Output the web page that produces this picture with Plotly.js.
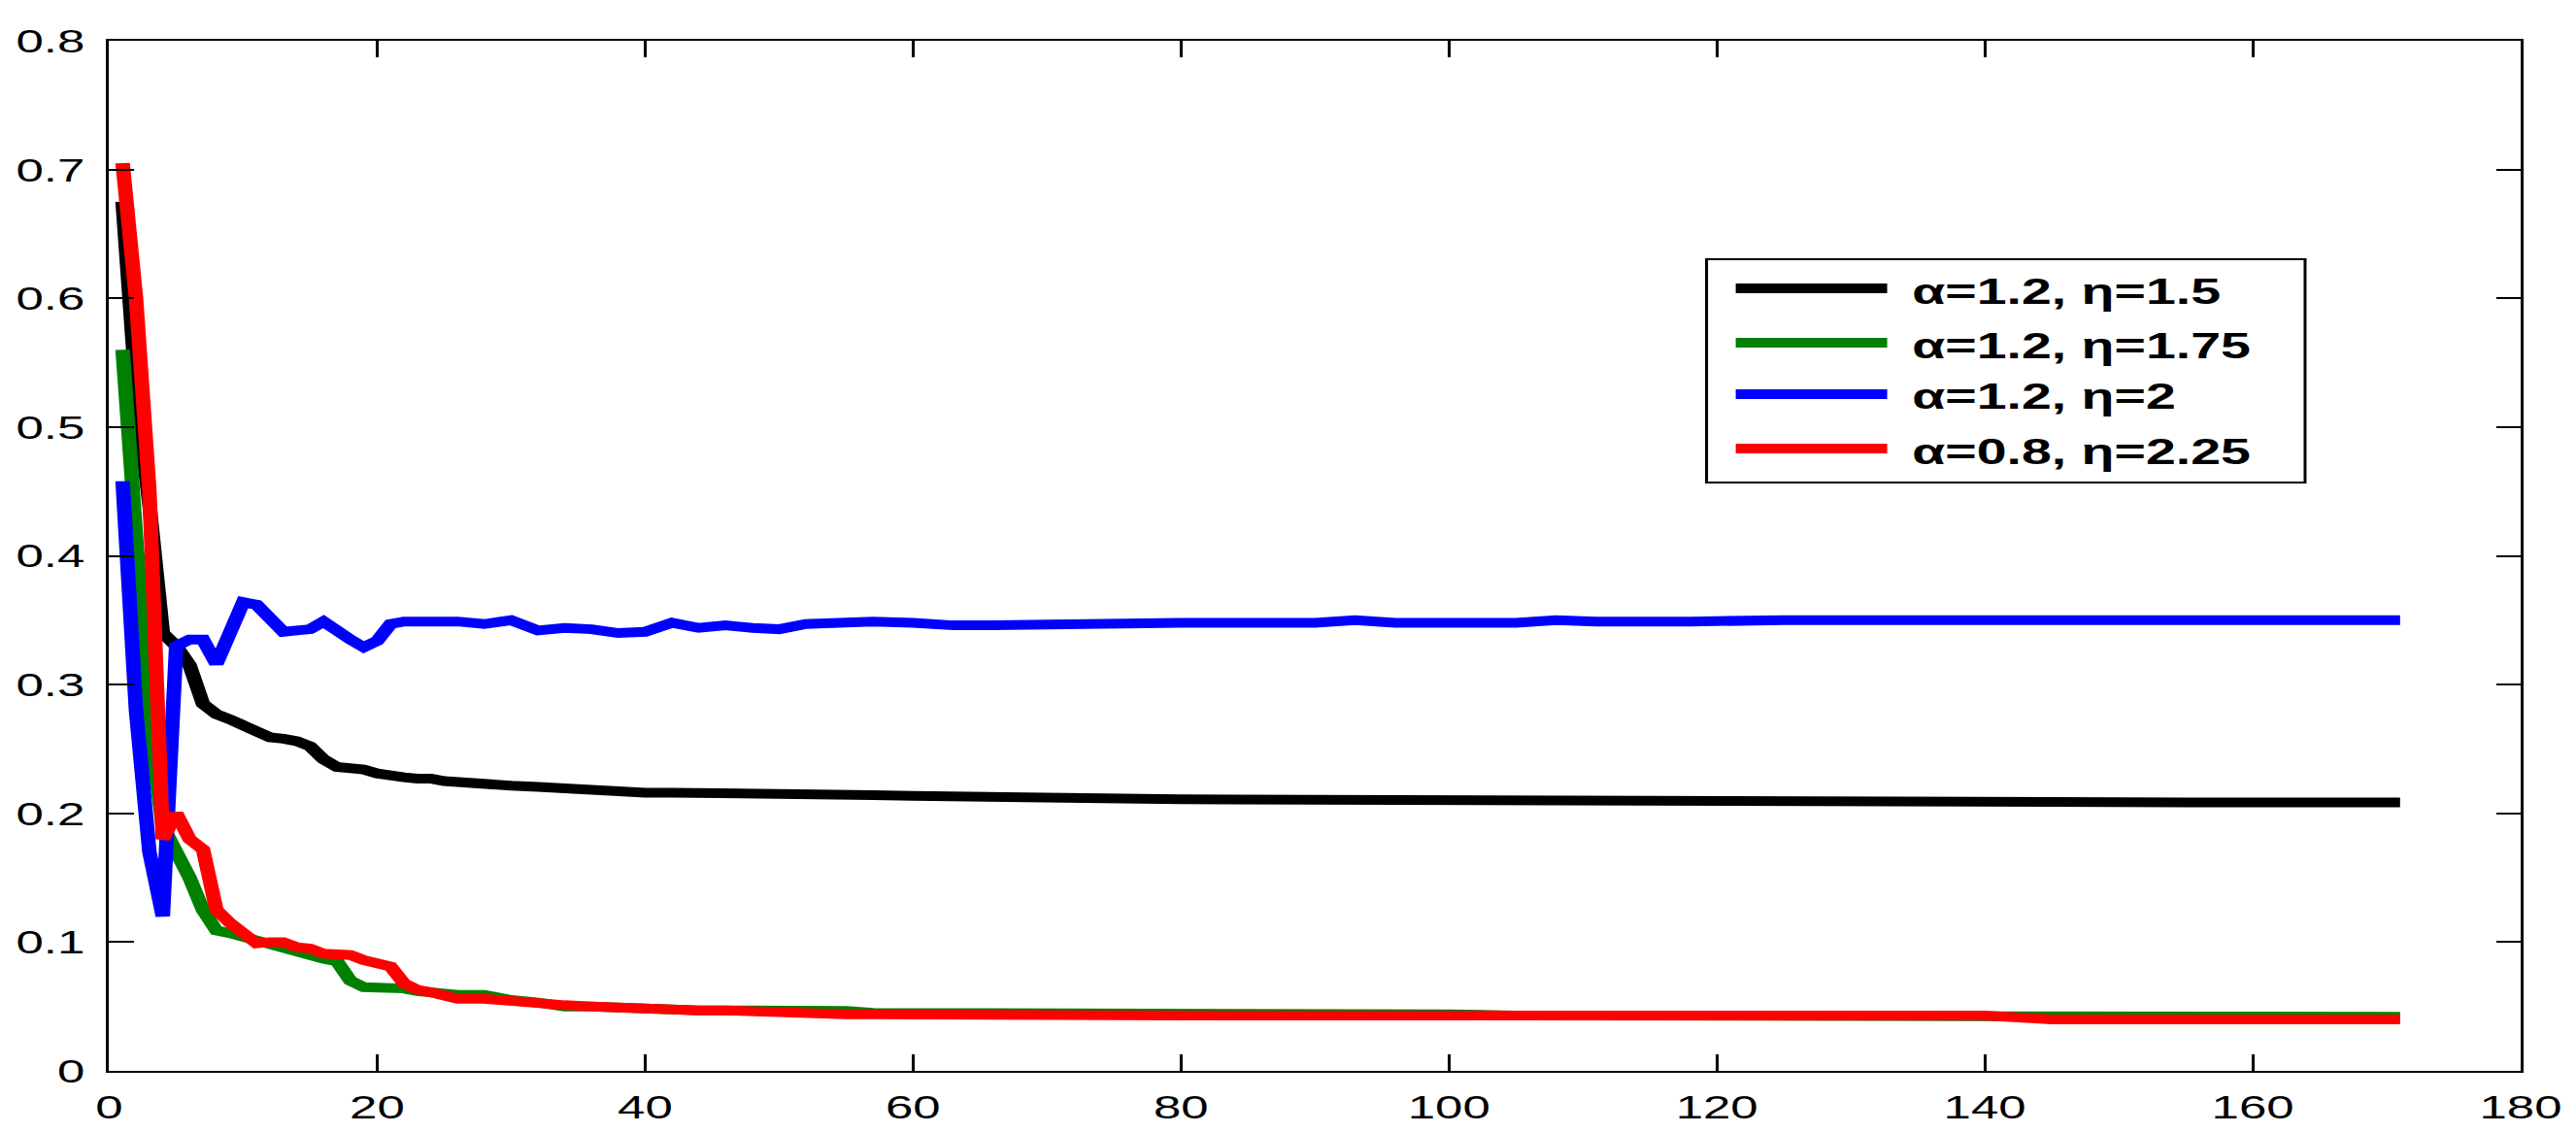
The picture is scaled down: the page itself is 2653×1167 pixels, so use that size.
<!DOCTYPE html>
<html>
<head>
<meta charset="utf-8">
<script src="https://cdn.plot.ly/plotly-3.0.1.min.js"></script>
<style>
  html, body { margin: 0; padding: 0; background: #ffffff; overflow: hidden; }
  #wrap { width: 2653px; height: 1167px; overflow: hidden; }
  #chart { width: 1769px; height: 1167px; transform: scaleX(1.49972); transform-origin: 0 0; }
</style>
</head>
<body>
<div id="wrap"><div id="chart"></div></div>
<script>
// ---- data ----
const iterations = [1,2,3,4,5,6,7,8,9,10,11,12,13,14,15,16,17,18,19,20,21,22,23,24,25,26,28,30,32,34,36,38,40,42,44,46,48,50,52,55,57,60,63,66,70,75,80,90,93,96,100,105,108,111,118,125,140,145,155,171];

const seriesNames = ["α=1.2, η=1.5", "α=1.2, η=1.75", "α=1.2, η=2", "α=0.8, η=2.25"];
const seriesColors = ["#000000", "#008000", "#0000ff", "#ff0000"];

const blackA12E150 = [0.675,0.53,0.44,0.34,0.33,0.315,0.285,0.277,0.273,0.268,0.262,0.259,0.258,0.256,0.252,0.242,0.236,0.235,0.234,0.231,0.229,0.228,0.227,0.227,0.225,0.224,0.223,0.2215,0.2205,0.219,0.2175,0.2165,0.216,0.216,0.216,0.2158,0.2155,0.2152,0.215,0.2146,0.2142,0.2135,0.213,0.2128,0.2125,0.211,0.211,0.2105,0.2105,0.2103,0.21,0.2095,0.209,0.209,0.209,0.209,0.2088,0.2088,0.2085,0.2085];

const greenA12E175 = [0.56,0.40,0.27,0.19,0.172,0.15,0.125,0.109,0.107,0.104,0.100,0.097,0.094,0.092,0.090,0.087,0.085,0.070,0.065,0.065,0.064,0.064,0.062,0.061,0.059,0.059,0.059,0.055,0.053,0.050,0.050,0.049,0.049,0.048,0.047,0.047,0.047,0.046,0.046,0.0465,0.045,0.045,0.045,0.045,0.044,0.044,0.044,0.044,0.044,0.044,0.044,0.043,0.043,0.043,0.043,0.043,0.042,0.042,0.042,0.042];

const blueA12E200 = [0.458,0.28,0.17,0.12,0.33,0.335,0.335,0.316,0.34,0.364,0.362,0.35,0.341,0.342,0.343,0.349,0.341,0.335,0.329,0.334,0.347,0.349,0.349,0.349,0.349,0.349,0.347,0.350,0.342,0.344,0.343,0.340,0.341,0.348,0.344,0.346,0.344,0.343,0.347,0.348,0.349,0.348,0.346,0.346,0.347,0.348,0.348,0.348,0.350,0.348,0.348,0.348,0.350,0.349,0.349,0.350,0.350,0.350,0.350,0.350];

const redA08E225 = [0.705,0.60,0.45,0.18,0.20,0.18,0.172,0.125,0.115,0.106,0.099,0.100,0.100,0.096,0.095,0.091,0.090,0.090,0.086,0.083,0.081,0.068,0.063,0.061,0.058,0.056,0.056,0.054,0.052,0.051,0.050,0.049,0.049,0.048,0.047,0.047,0.046,0.046,0.045,0.044,0.044,0.0437,0.0435,0.0435,0.043,0.043,0.043,0.043,0.043,0.043,0.043,0.043,0.043,0.043,0.043,0.043,0.043,0.040,0.040,0.040];

const seriesValues = [blackA12E150, greenA12E175, blueA12E200, redA08E225];

const xTickVals = [0,20,40,60,80,100,120,140,160,180];
const yTickVals = [0,0.1,0.2,0.3,0.4,0.5,0.6,0.7,0.8];
const yTickText = ["0","0.1","0.2","0.3","0.4","0.5","0.6","0.7","0.8"];

// ---- traces ----
const traces = seriesValues.map((vals, i) => ({
  type: "scatter",
  mode: "lines",
  x: iterations,
  y: vals,
  name: seriesNames[i],
  showlegend: false,
  line: { color: seriesColors[i], width: 10 },
  hoverinfo: "skip"
}));

// ---- hand-built legend (box, line samples, labels) ----
const legBox = { x0: 0.6624, x1: 0.9106, y0: 0.5712, y1: 0.7879 };
const legLineX = [0.6745, 0.7373];
const legRowY = [0.7597, 0.7069, 0.6569, 0.6041];
const legTextY = [0.7568, 0.7040, 0.6541, 0.6013];
const legTextX = 0.7464;

const shapes = [{
  type: "rect", xref: "paper", yref: "paper",
  x0: legBox.x0, x1: legBox.x1, y0: legBox.y0, y1: legBox.y1,
  line: { color: "#000000", width: 2 }, fillcolor: "#ffffff", layer: "above"
}];
seriesNames.forEach((n, i) => {
  shapes.push({
    type: "line", xref: "paper", yref: "paper",
    x0: legLineX[0], x1: legLineX[1], y0: legRowY[i], y1: legRowY[i],
    line: { color: seriesColors[i], width: 10 }, layer: "above"
  });
});
const annotations = seriesNames.map((n, i) => ({
  xref: "paper", yref: "paper", x: legTextX, y: legTextY[i],
  xanchor: "left", yanchor: "middle", showarrow: false,
  text: "<b>" + n + "</b>",
  font: { family: "Liberation Sans, Arial, sans-serif", size: 37, color: "#000000" }
}));

const axisCommon = {
  showgrid: false, zeroline: false,
  showline: true, linecolor: "#000000", linewidth: 2, mirror: "ticks",
  ticks: "inside", ticklen: 17, tickwidth: 2, tickcolor: "#000000",
  tickfont: { family: "Liberation Sans, Arial, sans-serif", size: 34, color: "#000000" },
  automargin: false, fixedrange: true
};

const layout = {
  width: 1769, height: 1167,
  margin: { l: 75, r: 38, t: 42, b: 64, pad: 0 },
  paper_bgcolor: "#ffffff", plot_bgcolor: "#ffffff",
  showlegend: false,
  xaxis: Object.assign({}, axisCommon, {
    range: [0, 180], tickmode: "array", tickvals: xTickVals,
    ticklabelstandoff: 6
  }),
  yaxis: Object.assign({}, axisCommon, {
    range: [0, 0.8], tickmode: "array", tickvals: yTickVals, ticktext: yTickText,
    ticklabelstandoff: 8
  }),
  shapes: shapes,
  annotations: annotations
};

Plotly.newPlot("chart", traces, layout, { staticPlot: true, displayModeBar: false });
</script>
</body>
</html>
